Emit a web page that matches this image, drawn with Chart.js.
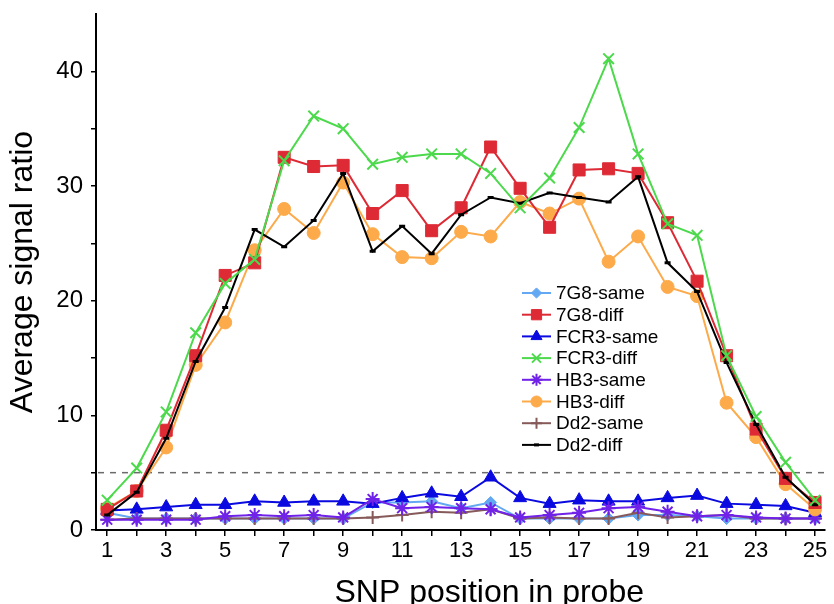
<!DOCTYPE html>
<html>
<head>
<meta charset="utf-8">
<script src="https://cdn.jsdelivr.net/npm/chart.js@4/dist/chart.umd.min.js"></script>
<style>
    html, body { margin: 0; padding: 0; background: #fff; }
    #wrap { width: 834px; height: 604px; }
</style>
</head>
<body>
<div id="wrap"><canvas id="snpChart" width="834" height="604"></canvas></div>
<script>
// SNP position vs average signal ratio

const positions = [1, 2, 3, 4, 5, 6, 7, 8, 9, 10, 11, 12, 13, 14, 15, 16, 17, 18, 19, 20, 21, 22, 23, 24, 25];

const s7G8Same = [1.5, 1.0, 1.0, 1.0, 1.0, 1.0, 1.0, 1.0, 1.0, 2.4, 2.4, 2.5, 1.9, 2.4, 1.0, 1.0, 1.0, 1.0, 1.3, 1.3, 1.2, 1.0, 1.0, 1.0, 1.0];
const s7G8Diff = [1.8, 3.4, 8.7, 15.2, 22.2, 23.3, 32.5, 31.7, 31.8, 27.6, 29.6, 26.1, 28.1, 33.4, 29.8, 26.4, 31.4, 31.5, 31.1, 26.8, 21.7, 15.2, 8.8, 4.5, 2.4];
const sFCR3Same = [1.7, 1.8, 2.0, 2.2, 2.2, 2.5, 2.4, 2.5, 2.5, 2.3, 2.8, 3.2, 2.9, 4.6, 2.8, 2.3, 2.6, 2.5, 2.5, 2.8, 3.0, 2.3, 2.2, 2.1, 1.5];
const sFCR3Diff = [2.6, 5.4, 10.3, 17.2, 21.5, 23.6, 32.2, 36.1, 35.0, 31.9, 32.5, 32.8, 32.8, 31.1, 28.1, 30.7, 35.1, 41.1, 32.8, 26.7, 25.7, 15.2, 9.9, 5.9, 2.6];
const sHB3Same = [0.9, 0.9, 0.9, 0.9, 1.2, 1.3, 1.2, 1.3, 1.1, 2.7, 1.9, 2.0, 1.9, 1.8, 1.1, 1.3, 1.5, 1.9, 2.0, 1.6, 1.2, 1.3, 1.1, 1.0, 1.0];
const sHB3Diff = [1.9, 3.4, 7.2, 14.4, 18.1, 24.4, 28.0, 25.9, 30.3, 25.8, 23.8, 23.7, 26.0, 25.6, 28.6, 27.6, 28.9, 23.4, 25.6, 21.2, 20.4, 11.1, 8.1, 4.0, 1.8];
const sDd2Same = [0.9, 1.0, 1.0, 1.0, 1.0, 1.0, 1.0, 1.0, 1.0, 1.1, 1.3, 1.6, 1.5, 1.8, 1.0, 1.1, 1.0, 1.0, 1.5, 1.1, 1.2, 1.3, 1.0, 1.0, 1.0];
const sDd2Diff = [1.3, 3.3, 8.0, 14.7, 19.4, 26.2, 24.7, 27.0, 31.1, 24.3, 26.5, 24.1, 27.5, 29.0, 28.5, 29.4, 29.0, 28.6, 30.8, 23.3, 20.8, 14.6, 9.2, 4.6, 2.2];

const threshold = 5;

const yTickValues = [0, 5, 10, 15, 20, 25, 30, 35, 40];

const xTitle = "SNP position in probe";
const yTitle = "Average signal ratio";

const FONT = "'Liberation Sans', Arial, Helvetica, sans-serif";

function series(label, values, color, style, radius, order, extra) {
    return Object.assign({
        label: label,
        data: values.map((v, i) => ({ x: positions[i], y: v })),
        borderColor: color,
        backgroundColor: color,
        pointBackgroundColor: color,
        pointBorderColor: color,
        pointStyle: style,
        pointRadius: radius,
        pointBorderWidth: 1,
        borderWidth: 2,
        tension: 0,
        order: order
    }, extra || {});
}

const datasets = [
    series("7G8-same", s7G8Same, "#62a8f2", "rectRot", 6, 8),
    series("7G8-diff", s7G8Diff, "#dd2a35", "rect", 8.5, 3),
    series("FCR3-same", sFCR3Same, "#0a0ae0", "triangle", 7.5, 7),
    series("FCR3-diff", sFCR3Diff, "#4cd94c", "crossRot", 7.5, 1, { pointBorderWidth: 2 }),
    series("HB3-same", sHB3Same, "#7022e8", "star", 7, 5, { pointBorderWidth: 2 }),
    series("HB3-diff", sHB3Diff, "#fcaa4a", "circle", 6.5, 4),
    series("Dd2-same", sDd2Same, "#875a5a", "cross", 6.5, 6, { pointBorderWidth: 2 }),
    series("Dd2-diff", sDd2Diff, "#000000", "line", 3, 2, { pointBorderWidth: 3 })
];

// dashed reference line
const thresholdLine = {
    id: "thresholdLine",
    beforeDatasetsDraw(chart) {
        const { ctx, chartArea, scales } = chart;
        const y = scales.y.getPixelForValue(threshold);
        ctx.save();
        ctx.strokeStyle = "#6b6b6b";
        ctx.lineWidth = 1.5;
        ctx.setLineDash([6, 6]);
        ctx.beginPath();
        ctx.moveTo(chartArea.left + 2, y);
        ctx.lineTo(chartArea.right, y);
        ctx.stroke();
        ctx.restore();
    }
};

// x title sits a bit right of centre and is clipped by the bottom edge
const xAxisTitle = {
    id: "xAxisTitle",
    afterDraw(chart) {
        const { ctx, chartArea } = chart;
        ctx.save();
        ctx.font = "32px " + FONT;
        ctx.fillStyle = "#000";
        ctx.textAlign = "center";
        ctx.textBaseline = "alphabetic";
        ctx.fillText(xTitle, (chartArea.left + chartArea.right) / 2 + 29, 602);
        ctx.restore();
    }
};

// legend inside plot area
const insideLegend = {
    id: "insideLegend",
    afterDraw(chart) {
        const ctx = chart.ctx;
        const x0 = 522, x1 = 551, top = 293, step = 21.7;
        ctx.save();
        ctx.font = "19px " + FONT;
        ctx.textBaseline = "middle";
        ctx.fillStyle = "#000";
        chart.data.datasets.forEach((ds, i) => {
            const y = top + i * step;
            ctx.strokeStyle = ds.borderColor;
            ctx.lineWidth = 2;
            ctx.setLineDash([]);
            ctx.beginPath();
            ctx.moveTo(x0, y);
            ctx.lineTo(x1, y);
            ctx.stroke();
            if (Chart.helpers && Chart.helpers.drawPoint) {
                ctx.fillStyle = ds.pointBackgroundColor;
                ctx.strokeStyle = ds.pointBorderColor;
                ctx.lineWidth = ds.pointBorderWidth;
                Chart.helpers.drawPoint(ctx, {
                    pointStyle: ds.pointStyle,
                    radius: ds.pointRadius * 0.85,
                    rotation: 0,
                    borderWidth: ds.pointBorderWidth
                }, (x0 + x1) / 2, y);
            }
            ctx.fillStyle = "#000";
            ctx.fillText(ds.label, 556, y + 1);
        });
        ctx.restore();
    }
};

new Chart(document.getElementById("snpChart"), {
    type: "line",
    data: { datasets: datasets },
    plugins: [thresholdLine, insideLegend, xAxisTitle],
    options: {
        responsive: false,
        animation: false,
        devicePixelRatio: 1,
        layout: { padding: { top: 14, right: 4, left: 0, bottom: 0 } },
        plugins: {
            legend: { display: false },
            tooltip: { enabled: false }
        },
        scales: {
            x: {
                type: "linear",
                min: 0.62,
                max: 25.32,
                afterBuildTicks: (scale) => {
                    scale.ticks = positions.map(p => ({ value: p }));
                },
                afterFit: (scale) => {
                    scale.height = 74;
                    scale.paddingLeft = 0;
                    scale.paddingRight = 0;
                },
                border: { color: "#000", width: 2 },
                grid: { drawOnChartArea: false, drawTicks: true, tickLength: 6, color: "#000", lineWidth: 1.5 },
                ticks: {
                    autoSkip: false,
                    maxRotation: 0,
                    padding: 2,
                    color: "#000",
                    font: { family: FONT, size: 22 },
                    callback: (v) => (v % 2 === 1 ? String(v) : "")
                },
                title: { display: false }
            },
            y: {
                min: 0,
                max: 45,
                afterBuildTicks: (scale) => {
                    scale.ticks = yTickValues.map(v => ({ value: v }));
                },
                afterFit: (scale) => {
                    scale.width = 96;
                    scale.paddingTop = 0;
                    scale.paddingBottom = 0;
                },
                border: { color: "#000", width: 2 },
                grid: { drawOnChartArea: false, drawTicks: true, tickLength: 5, color: "#000", lineWidth: 1.5 },
                ticks: {
                    padding: 8,
                    color: "#000",
                    font: { family: FONT, size: 24 },
                    callback: (v) => (v % 10 === 0 ? String(v) : "")
                },
                title: {
                    display: true,
                    text: yTitle,
                    color: "#000",
                    font: { family: FONT, size: 32 },
                    padding: { top: 4, bottom: 0 }
                }
            }
        }
    }
});
</script>
</body>
</html>
